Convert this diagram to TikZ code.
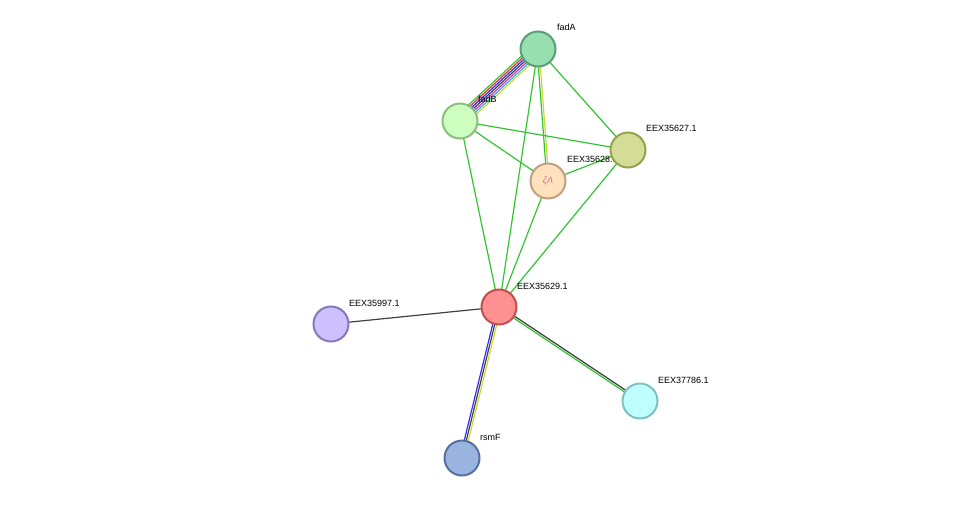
\documentclass[tikz,border=0pt]{standalone}
\usepackage{fontspec}
\setmainfont{Liberation Sans}
\usetikzlibrary{calc,backgrounds}
\definecolor{eg}{HTML}{33C433}
\definecolor{ey}{HTML}{C8D838}
\definecolor{er}{HTML}{F03030}
\definecolor{eb}{HTML}{3030F0}
\definecolor{ek}{HTML}{404040}
\definecolor{em}{HTML}{D030D0}
\definecolor{ec}{HTML}{30B0E0}
\tikzset{
 prot/.style={circle,minimum size=35pt,inner sep=0pt,line width=2pt},
 lab/.style={anchor=west,font=\fontsize{9pt}{10pt}\selectfont,text=black,inner sep=1pt},
 edge/.style={line width=1.2pt}
}
\newcommand\medge[3]{%
 \foreach \c/\o in {#3}{%
  \draw[edge,\c] ($(#1)!\o pt!90:(#2)$) -- ($(#2)!\o pt!-90:(#1)$);}}
\begin{document}
\begin{tikzpicture}[x=1pt,y=-1pt]
\useasboundingbox (0,0) rectangle (975,504);
\node[prot,fill={rgb,255:red,152;green,223;blue,176},draw={rgb,255:red,90;green,158;blue,117}] (fadA) at (538,49) {};
\node[lab] at (556,27) {fadA};
\node[prot,fill={rgb,255:red,204;green,255;blue,192},draw={rgb,255:red,141;green,190;blue,128}] (fadB) at (460,121) {};
\node[lab] at (477,99) {fadB};
\node[prot,fill={rgb,255:red,255;green,225;blue,190},draw={rgb,255:red,192;green,160;blue,128}] (e28) at (548,181) {\textcolor{purple!60}{\small\itshape \char"03B6\char"039B}};
\node[lab] at (566,159) {EEX35628.1};
\node[prot,fill={rgb,255:red,211;green,221;blue,149},draw={rgb,255:red,152;green,160;blue,80}] (e27) at (628,150) {};
\node[lab] at (645,128) {EEX35627.1};
\node[prot,fill={rgb,255:red,255;green,144;blue,144},draw={rgb,255:red,192;green,80;blue,80}] (e29) at (499,307) {};
\node[lab] at (516,286) {EEX35629.1};
\node[prot,fill={rgb,255:red,204;green,192;blue,255},draw={rgb,255:red,136;green,120;blue,187}] (e97) at (331,324) {};
\node[lab] at (348,303) {EEX35997.1};
\node[prot,fill={rgb,255:red,191;green,255;blue,255},draw={rgb,255:red,128;green,192;blue,192}] (e86) at (640,401) {};
\node[lab] at (657,380) {EEX37786.1};
\node[prot,fill={rgb,255:red,154;green,180;blue,224},draw={rgb,255:red,88;green,112;blue,160}] (rsmF) at (462,458) {};
\node[lab] at (479,437) {rsmF};
\begin{scope}[on background layer]
\medge{fadA}{fadB}{eg/-6,er/-4,eb/-2,ek/0,em/2,ec/4,ey/6}
\medge{fadA}{e28}{eg/-1,ey/1}
\medge{fadA}{e27}{eg/0}
\medge{fadA}{e29}{eg/0}
\medge{fadB}{e28}{eg/0}
\medge{fadB}{e27}{eg/0}
\medge{fadB}{e29}{eg/0}
\medge{e28}{e27}{eg/0}
\medge{e28}{e29}{eg/0}
\medge{e27}{e29}{eg/0}
\medge{e29}{e97}{ek/0}
\medge{e29}{e86}{eg/-1,ek/1}
\medge{e29}{rsmF}{eb/-2,ek/0,ey/2}
\end{scope}
\end{tikzpicture}
\end{document}
